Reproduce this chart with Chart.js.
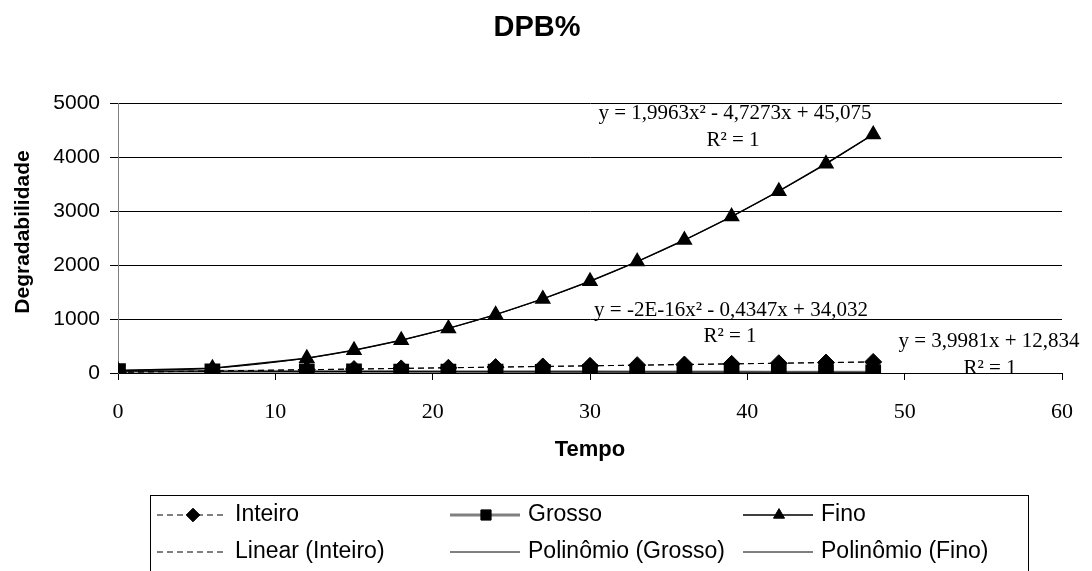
<!DOCTYPE html>
<html>
<head>
<meta charset="utf-8">
<title>DPB%</title>
<script src="https://cdn.jsdelivr.net/npm/chart.js@4.4.1/dist/chart.umd.min.js"></script>
<style>
    html, body { margin: 0; padding: 0; background: #fff; }
    #wrap { width: 1092px; height: 571px; position: relative; }
</style>
</head>
<body>
<div id="wrap"><canvas id="grafico"></canvas></div>
<script>
// Dados
const tempo = [0, 6, 12, 15, 18, 21, 24, 27, 30, 33, 36, 39, 42, 45, 48];
const inteiro = [13, 37, 61, 73, 85, 97, 109, 121, 133, 145, 157, 169, 181, 193, 205];
const grosso = [34, 31, 29, 28, 26, 25, 24, 22, 21, 20, 18, 17, 16, 15, 13];
const fino = [45, 88, 275, 423, 607, 826, 1081, 1372, 1700, 2063, 2462, 2897, 3368, 3875, 4418];

// Linhas de tendência
const linearInteiroX = [0, 48];
const linearInteiroY = [13, 205];
const polinomioGrossoX = [0, 48];
const polinomioGrossoY = [34, 13];
const polinomioFino = [45, 88, 275, 423, 607, 826, 1081, 1372, 1700, 2063, 2462, 2897, 3368, 3875, 4418];

// Eixos
const ticksX = [0, 10, 20, 30, 40, 50, 60];
const ticksY = [0, 1000, 2000, 3000, 4000, 5000];

// Textos das equações
const equacoes = [
    'y = 1,9963x² - 4,7273x + 45,075', 'R² = 1',
    'y = -2E-16x² - 0,4347x + 34,032', 'R² = 1',
    'y = 3,9981x + 12,834', 'R² = 1'
];

function pares(xs, ys) {
    return xs.map((x, i) => ({ x: x, y: ys[i] }));
}

const SANS = '"Liberation Sans", Arial, sans-serif';
const SERIF = '"Liberation Serif", "Times New Roman", serif';

// Plugin: título, títulos dos eixos, equações e legenda
const extras = {
    id: 'extras',
    afterDraw(chart) {
        const ctx = chart.ctx;
        const area = chart.chartArea;
        ctx.save();
        ctx.fillStyle = '#000';
        ctx.textAlign = 'center';
        ctx.textBaseline = 'middle';

        ctx.font = 'bold 29px ' + SANS;
        ctx.fillText('DPB%', 537, 28);

        ctx.font = 'bold 22px ' + SANS;
        ctx.fillText('Tempo', (area.left + area.right) / 2, 450);

        ctx.save();
        ctx.translate(23, 232);
        ctx.rotate(-Math.PI / 2);
        ctx.font = 'bold 21px ' + SANS;
        ctx.fillText('Degradabilidade', 0, 0);
        ctx.restore();

        // equações
        const posEq = [[735, 113], [733, 140], [731, 310], [730, 336], [989, 341], [990, 368]];
        ctx.font = '21px ' + SERIF;
        equacoes.forEach((txt, i) => ctx.fillText(txt, posEq[i][0], posEq[i][1]));

        // legenda
        ctx.strokeStyle = '#000';
        ctx.lineWidth = 1;
        ctx.strokeRect(150.5, 495.5, 878, 90);
        const colX = [157, 450, 743];
        const rowY = [515, 552];
        ctx.textAlign = 'left';
        ctx.font = '23px ' + SANS;
        chart.data.datasets.forEach((ds, i) => {
            const x0 = colX[i % 3];
            const y0 = rowY[Math.floor(i / 3)];
            ctx.save();
            ctx.strokeStyle = ds.borderColor;
            ctx.lineWidth = ds.borderWidth;
            ctx.setLineDash(ds.borderDash || []);
            ctx.beginPath();
            ctx.moveTo(x0, y0);
            ctx.lineTo(x0 + 70, y0);
            ctx.stroke();
            ctx.restore();
            if (ds.pointRadius > 0) {
                ctx.save();
                ctx.fillStyle = ds.pointBackgroundColor;
                ctx.strokeStyle = ds.pointBorderColor;
                Chart.helpers.drawPoint(ctx, {
                    pointStyle: ds.pointStyle,
                    radius: ds.pointRadius * 0.8,
                    rotation: 0,
                    borderWidth: 1
                }, x0 + 36, y0);
                ctx.restore();
            }
            ctx.fillStyle = '#000';
            ctx.fillText(ds.label, x0 + 78, y0);
        });
        ctx.restore();
    }
};

const grafico = new Chart(document.getElementById('grafico'), {
    type: 'scatter',
    data: {
        datasets: [
            {
                label: 'Inteiro',
                data: pares(tempo, inteiro),
                showLine: true,
                borderColor: '#000',
                borderWidth: 1,
                borderDash: [6, 4],
                pointStyle: 'rectRot',
                pointRadius: 8.5,
                pointBackgroundColor: '#000',
                pointBorderColor: '#000',
                order: 3
            },
            {
                label: 'Grosso',
                data: pares(tempo, grosso),
                showLine: true,
                borderColor: '#808080',
                borderWidth: 3,
                pointStyle: 'rect',
                pointRadius: 9,
                pointBackgroundColor: '#000',
                pointBorderColor: '#000',
                order: 4
            },
            {
                label: 'Fino',
                data: pares(tempo, fino),
                showLine: true,
                borderColor: '#000',
                borderWidth: 1.5,
                pointStyle: 'triangle',
                pointRadius: 8,
                pointBackgroundColor: '#000',
                pointBorderColor: '#000',
                order: 2
            },
            {
                label: 'Linear (Inteiro)',
                data: pares(linearInteiroX, linearInteiroY),
                showLine: true,
                borderColor: '#000',
                borderWidth: 1,
                borderDash: [6, 4],
                pointRadius: 0,
                order: 1
            },
            {
                label: 'Polinômio (Grosso)',
                data: pares(polinomioGrossoX, polinomioGrossoY),
                showLine: true,
                borderColor: '#000',
                borderWidth: 1,
                pointRadius: 0,
                order: 1
            },
            {
                label: 'Polinômio (Fino)',
                data: pares(tempo, polinomioFino),
                showLine: true,
                borderColor: '#000',
                borderWidth: 1,
                tension: 0.4,
                cubicInterpolationMode: 'monotone',
                pointRadius: 0,
                order: 1
            }
        ]
    },
    options: {
        responsive: true,
        maintainAspectRatio: false,
        devicePixelRatio: 1,
        animation: false,
        layout: { padding: { top: 103, right: 30, bottom: 0, left: 0 } },
        plugins: {
            legend: { display: false },
            title: { display: false },
            tooltip: { enabled: false }
        },
        scales: {
            x: {
                type: 'linear',
                min: ticksX[0],
                max: ticksX[ticksX.length - 1],
                afterBuildTicks: s => { s.ticks = ticksX.map(v => ({ value: v })); },
                afterFit: s => { s.height = 198; },
                ticks: {
                    color: '#000',
                    padding: 19,
                    font: { family: SERIF, size: 22 },
                    callback: v => String(v)
                },
                grid: { drawOnChartArea: false, tickLength: 7, tickColor: '#000' },
                border: { color: '#000', width: 1 }
            },
            y: {
                min: ticksY[0],
                max: ticksY[ticksY.length - 1],
                afterBuildTicks: s => { s.ticks = ticksY.map(v => ({ value: v })); },
                afterFit: s => { s.width = 118; },
                ticks: {
                    color: '#000',
                    padding: 10,
                    font: { family: SANS, size: 21 },
                    callback: v => String(v)
                },
                grid: { color: '#000', tickLength: 8, tickColor: '#000' },
                border: { color: '#808080', width: 1 }
            }
        }
    },
    plugins: [extras]
});
</script>
</body>
</html>
